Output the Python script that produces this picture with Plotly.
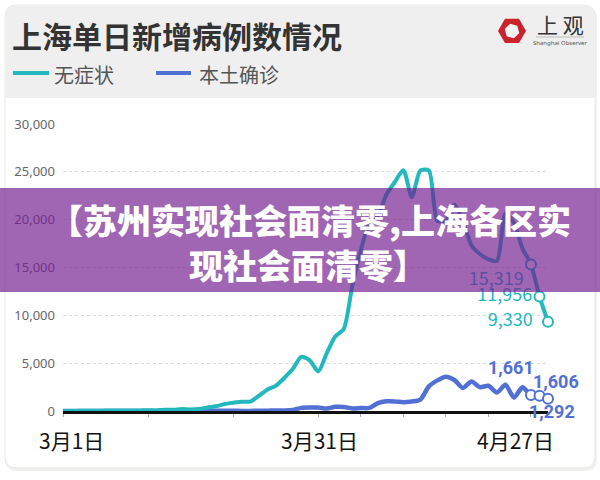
import math
import pandas as pd
import plotly.graph_objects as go

# ---------------- data ----------------
dates = pd.date_range("2022-03-01", "2022-04-27", freq="D")
asymptomatic = [1, 1, 14, 16, 28, 45, 51, 58, 62, 64,
                78, 64, 128, 130, 197, 150, 203, 366, 492, 734,
                865, 977, 979, 1580, 2231, 2631, 3450, 4381, 5656, 5298, 4144,
                6051, 7788, 8581, 13086, 16766, 19660, 20398, 22609, 23937, 25173,
                22348, 25141, 25146, 19872, 19923, 21582, 19831, 17332, 16407, 15861,
                15698, 20634, 19657, 16983, 15319, 11956, 9330]
confirmed = [1, 0, 2, 3, 0, 3, 3, 4, 3, 11,
             5, 1, 41, 9, 5, 8, 57, 8, 17, 24,
             31, 4, 4, 29, 38, 45, 50, 96, 326, 355, 358,
             260, 438, 425, 268, 311, 322, 824, 1015, 1006, 914,
             994, 1189, 2573, 3200, 3590, 3238, 2417, 3084, 2494, 2634,
             1931, 2736, 1401, 2472, 1661, 1606, 1292]
series_names = ["无症状", "本土确诊"]
y_tick_values = [0, 5000, 10000, 15000, 20000, 25000, 30000]
x_label_dates = ["2022-03-01", "2022-03-31", "2022-04-27"]
x_label_texts = ["3月1日", "3月31日", "4月27日"]
x_minor_tick_dates = ["2022-03-01", "2022-03-11", "2022-03-21", "2022-03-31", "2022-04-05",
                      "2022-04-10", "2022-04-15", "2022-04-20", "2022-04-25"]
title_text = "上海单日新增病例数情况"
banner_lines = ["【苏州实现社会面清零,上海各区实", "现社会面清零】"]

TEAL = "#22b8be"
BLUE = "#5270d4"
CJK = "Noto Sans CJK SC"

# ---------------- layout geometry (pixels -> paper) ----------------
W, H = 600, 480
PL, PR, PT, PB = 63, 548, 124, 411


def px(x):
    return (x - PL) / (PR - PL)


def py(y):
    return (PB - y) / (PB - PT)


def path_from(segments, close=True):
    s = ""
    for cmd, pts in segments:
        s += cmd + " " + " ".join(f"{px(a):.5f},{py(b):.5f}" for a, b in pts) + " "
    if close:
        s += "Z"
    return s


def rounded_rect(x0, y0, x1, y1, r, top=True, bottom=True):
    rt = r if top else 0
    rb = r if bottom else 0
    seg = [("M", [(x0 + rt, y0)]), ("L", [(x1 - rt, y0)])]
    if rt:
        seg.append(("Q", [(x1, y0), (x1, y0 + rt)]))
    seg.append(("L", [(x1, y1 - rb)]))
    if rb:
        seg.append(("Q", [(x1, y1), (x1 - rb, y1)]))
    seg.append(("L", [(x0 + rb, y1)]))
    if rb:
        seg.append(("Q", [(x0, y1), (x0, y1 - rb)]))
    seg.append(("L", [(x0, y0 + rt)]))
    if rt:
        seg.append(("Q", [(x0, y0), (x0 + rt, y0)]))
    return path_from(seg)


def hexagon(cx, cy, r, rot):
    pts = []
    for k in range(6):
        a = math.radians(rot + 60 * k)
        pts.append((cx + r * math.cos(a), cy + r * math.sin(a)))
    seg = [("M", [pts[0]])] + [("L", [p]) for p in pts[1:]]
    return path_from(seg)


fig = go.Figure()

# blue first so teal sits on top near zero
fig.add_trace(go.Scatter(x=dates, y=confirmed, mode="lines", name=series_names[1],
                         line=dict(color=BLUE, width=4.5, shape="spline", smoothing=0.7),
                         showlegend=False, hoverinfo="skip"))
fig.add_trace(go.Scatter(x=dates, y=asymptomatic, mode="lines", name=series_names[0],
                         line=dict(color=TEAL, width=4, shape="spline", smoothing=0.7),
                         showlegend=False, hoverinfo="skip"))
fig.add_trace(go.Scatter(x=dates[-3:], y=confirmed[-3:], mode="markers",
                         marker=dict(size=10, color="white", line=dict(color=BLUE, width=2)),
                         showlegend=False, cliponaxis=False, hoverinfo="skip"))
fig.add_trace(go.Scatter(x=dates[-3:], y=asymptomatic[-3:], mode="markers+text",
                         text=[f"{v:,}" for v in asymptomatic[-3:-1]] + [f"{asymptomatic[-1]:,}\u00a0\u00a0"],
                         textposition=["bottom left", "middle left", "middle left"],
                         textfont=dict(family=CJK, size=18, color=TEAL),
                         marker=dict(size=10, color="white", line=dict(color=TEAL, width=2)),
                         showlegend=False, cliponaxis=False, hoverinfo="skip"))

shapes = []
# card shadow + card + header
shapes.append(dict(type="path", xref="paper", yref="paper", layer="below",
                   path=rounded_rect(5, 7, 597, 471, 12), fillcolor="rgba(0,0,0,0.06)", line=dict(width=0)))
shapes.append(dict(type="path", xref="paper", yref="paper", layer="below",
                   path=rounded_rect(5, 5, 595, 468, 12), fillcolor="white", line=dict(color="#e8e8e0", width=1)))
shapes.append(dict(type="path", xref="paper", yref="paper", layer="below",
                   path=rounded_rect(5.5, 5.5, 594.5, 98, 12, bottom=False), fillcolor="#efefef", line=dict(width=0)))
# legend symbols
shapes.append(dict(type="line", xref="paper", yref="paper", layer="below",
                   x0=px(13), x1=px(49), y0=py(73), y1=py(73), line=dict(color=TEAL, width=4)))
shapes.append(dict(type="line", xref="paper", yref="paper", layer="below",
                   x0=px(156), x1=px(191), y0=py(73), y1=py(73), line=dict(color=BLUE, width=4)))
# logo
shapes.append(dict(type="path", xref="paper", yref="paper", layer="below",
                   path=hexagon(512, 31, 14, 0), fillcolor="#c9232d", line=dict(width=0)))
shapes.append(dict(type="path", xref="paper", yref="paper", layer="below",
                   path=hexagon(512, 31, 7.5, 15), fillcolor="#f4f4f4", line=dict(width=0)))
shapes.append(dict(type="line", xref="paper", yref="paper", layer="below",
                   x0=px(536), x1=px(584), y0=py(37), y1=py(37), line=dict(color="#999", width=0.6)))
# purple banner over the chart
shapes.append(dict(type="rect", xref="paper", yref="paper", layer="above",
                   x0=px(0), x1=px(600), y0=py(292), y1=py(188),
                   fillcolor="rgba(115,30,145,0.68)", line=dict(width=0)))

annotations = []
annotations.append(dict(xref="paper", yref="paper", x=px(10), y=py(35), xanchor="left", yanchor="middle",
                        text=title_text, showarrow=False,
                        font=dict(family=CJK, size=30, color="#333333", weight="bold")))
annotations.append(dict(xref="paper", yref="paper", x=px(52), y=py(74), xanchor="left", yanchor="middle",
                        text=series_names[0], showarrow=False, font=dict(family=CJK, size=20, color="#555")))
annotations.append(dict(xref="paper", yref="paper", x=px(197), y=py(74), xanchor="left", yanchor="middle",
                        text=series_names[1], showarrow=False, font=dict(family=CJK, size=20, color="#555")))
annotations.append(dict(xref="paper", yref="paper", x=px(535), y=py(24), xanchor="left", yanchor="middle",
                        text="上 观", showarrow=False, font=dict(family=CJK, size=21, color="#333")))
annotations.append(dict(xref="paper", yref="paper", x=px(560), y=py(43), xanchor="center", yanchor="middle",
                        text="Shanghai Observer", showarrow=False, font=dict(family="Noto Sans", size=6, color="#555")))
# date labels on x axis
anchors = ["center", "center", "right"]
shifts = [8, 1, 8]
for d, t, a, s in zip(x_label_dates, x_label_texts, anchors, shifts):
    annotations.append(dict(xref="x", yref="paper", x=d, y=py(440), xanchor=a, yanchor="middle",
                            xshift=s, text=t, showarrow=False,
                            font=dict(family=CJK, size=21, color="#111")))
# blue end labels
blue_shift = [(-20, 28), (17, 14), (4, -13)]
for d, v, (sx, sy) in zip(dates[-3:], confirmed[-3:], blue_shift):
    annotations.append(dict(xref="x", yref="y", x=d, y=v, xshift=sx, yshift=sy, showarrow=False,
                            text=f"{v:,}", font=dict(family="Roboto", size=18, color=BLUE, weight="bold")))
# banner text
annotations.append(dict(xref="paper", yref="paper", x=px(310), y=py(219), xanchor="center", yanchor="middle",
                        text=banner_lines[0], showarrow=False,
                        font=dict(family=CJK, size=34, color="white", weight=900)))
annotations.append(dict(xref="paper", yref="paper", x=px(308), y=py(264), xanchor="center", yanchor="middle",
                        text=banner_lines[1], showarrow=False,
                        font=dict(family=CJK, size=34, color="white", weight=900)))

fig.update_layout(
    width=W, height=H, autosize=False,
    margin=dict(l=PL, r=W - PR, t=PT, b=H - PB, pad=0),
    paper_bgcolor="white", plot_bgcolor="rgba(0,0,0,0)",
    showlegend=False,
    shapes=shapes, annotations=annotations,
    xaxis=dict(type="date", range=[dates[0], dates[-1]], showgrid=False, zeroline=False,
               showline=True, linecolor="#111", linewidth=3,
               tickvals=x_minor_tick_dates, showticklabels=False,
               ticks="outside", ticklen=3, tickwidth=1, tickcolor="#aaa",
               layer="below traces", fixedrange=True),
    yaxis=dict(range=[0, 30000], tickvals=y_tick_values, tickformat=",",
               showgrid=True, gridcolor="#dcdcdc", griddash="dot", gridwidth=1,
               zeroline=False, showline=False, ticks="",
               tickfont=dict(family="Noto Sans", size=13, color="#666"),
               ticklabelstandoff=7, layer="below traces", fixedrange=True),
)

fig.write_html("out.html", config={"displayModeBar": False, "staticPlot": True},
               post_script="document.body.style.margin='0';document.body.style.overflow='hidden';")
